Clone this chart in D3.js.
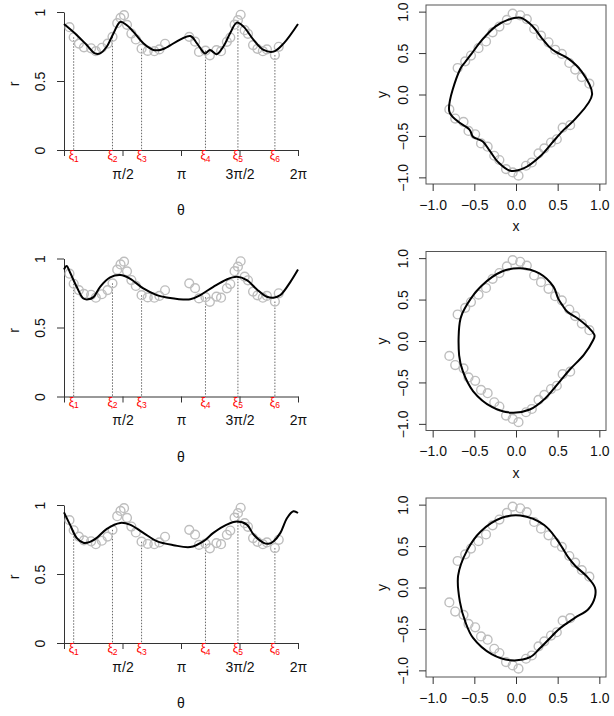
<!DOCTYPE html>
<html>
<head>
<meta charset="utf-8">
<script src="https://cdn.jsdelivr.net/npm/d3@7"></script>
<style>
  body { margin: 0; background: #fff; }
  text { font-family: "Liberation Sans", Arial, Helvetica, sans-serif; }
</style>
</head>
<body>
<svg id="chart" width="614" height="716"></svg>
<script>
// observed points, polar (theta, r)
const obsTheta = [0.147, 0.260, 0.400, 0.536, 0.728, 0.855, 1.016, 1.171, 1.302, 1.429, 1.518, 1.612,
  1.692, 1.809, 1.929, 2.083, 2.248, 2.426, 2.561, 2.713, 3.363, 3.520, 3.624, 3.799, 3.917, 4.094,
  4.217, 4.373, 4.465, 4.580, 4.670, 4.743, 4.851, 4.940, 5.076, 5.194, 5.339, 5.449, 5.663, 5.766];
const obsR = [0.890, 0.817, 0.771, 0.744, 0.737, 0.716, 0.741, 0.771, 0.820, 0.919, 0.957, 0.977,
  0.907, 0.844, 0.801, 0.734, 0.718, 0.716, 0.729, 0.770, 0.820, 0.785, 0.711, 0.720, 0.686, 0.724,
  0.716, 0.784, 0.815, 0.908, 0.941, 0.980, 0.868, 0.842, 0.760, 0.733, 0.716, 0.729, 0.688, 0.748];

// knots xi_1..xi_6
const xiTheta = [0.260, 1.302, 2.083, 3.799, 4.670, 5.663];
const xiR = [0.817, 0.820, 0.734, 0.720, 0.941, 0.688];
const xiSub = ["1", "2", "3", "4", "5", "6"];

// fitted curves r(theta), one per row
const fit1Theta = [0, 0.34, 0.61, 0.83, 0.97, 1.15, 1.33, 1.51, 1.68, 1.86, 2.13, 2.40, 2.58, 2.71,
  3.39, 3.57, 3.79, 3.92, 4.10, 4.28, 4.46, 4.64, 4.82, 5.09, 5.36, 5.63, 5.90, 6.283];
const fit1R = [0.913, 0.834, 0.761, 0.700, 0.700, 0.750, 0.846, 0.928, 0.906, 0.858, 0.773, 0.725, 0.725, 0.737,
  0.826, 0.773, 0.700, 0.725, 0.694, 0.750, 0.846, 0.923, 0.894, 0.798, 0.725, 0.713, 0.773, 0.913];

const fit2Theta = [0, 0.07, 0.16, 0.34, 0.52, 0.65, 0.79, 0.97, 1.24, 1.51, 1.77, 2.13, 2.49, 2.76,
  3.39, 3.66, 4.01, 4.37, 4.64, 4.91, 5.18, 5.45, 5.63, 5.81, 6.08, 6.283];
const fit2R = [0.920, 0.945, 0.900, 0.795, 0.710, 0.704, 0.720, 0.795, 0.863, 0.880, 0.855, 0.783, 0.735, 0.718,
  0.704, 0.735, 0.795, 0.848, 0.867, 0.843, 0.776, 0.723, 0.716, 0.735, 0.831, 0.920];

const fit3Theta = [0, 0.16, 0.34, 0.52, 0.70, 0.88, 1.15, 1.51, 1.77, 2.13, 2.49, 2.94, 3.39, 3.75,
  4.01, 4.37, 4.64, 4.91, 5.09, 5.36, 5.49, 5.63, 5.81, 5.99, 6.16, 6.283];
const fit3R = [0.947, 0.858, 0.762, 0.726, 0.733, 0.762, 0.827, 0.870, 0.858, 0.798, 0.738, 0.709, 0.695, 0.738,
  0.798, 0.858, 0.880, 0.858, 0.786, 0.726, 0.719, 0.738, 0.798, 0.906, 0.954, 0.942];

const thetaTicks = [0, Math.PI / 2, Math.PI, 3 * Math.PI / 2, 2 * Math.PI];
const thetaTickLabels = ["", "π/2", "π", "3π/2", "2π"];
const rTicks = [0, 0.5, 1];
const rTickLabels = ["0", "0.5", "1"];
const xyTicks = [-1, -0.5, 0, 0.5, 1];

const fits = [[fit1Theta, fit1R], [fit2Theta, fit2R], [fit3Theta, fit3R]];
const rowShift = [0, 246.5, 493];

const svg = d3.select("#chart");
const FONT = "Liberation Sans, Arial, Helvetica, sans-serif";
const FS = 14;
const AXIS_COL = "#333";
const PT_COL = "#bebebe";

const xTheta = d3.scaleLinear().domain([0, 2 * Math.PI]).range([64, 298]);
const yR = d3.scaleLinear().domain([0, 1]).range([150, 12]);
const xC = d3.scaleLinear().domain([-1.08, 1.08]).range([426, 606]);
const yC = d3.scaleLinear().domain([-1.08, 1.08]).range([184, 5]);

const obs = obsTheta.map((t, i) => ({ t: t, r: obsR[i] }));

function styleAxis(g) {
  g.attr("font-size", FS).attr("font-family", FONT);
  g.selectAll("line").attr("stroke", AXIS_COL);
  g.selectAll("path").attr("stroke", AXIS_COL);
  g.selectAll("text").attr("fill", "#111");
}

function drawPolar(g, fit) {
  // dotted drop lines at the knots
  g.append("g").selectAll("line")
    .data(xiTheta)
    .enter().append("line")
    .attr("x1", d => xTheta(d)).attr("x2", d => xTheta(d))
    .attr("y1", (d, i) => yR(xiR[i])).attr("y2", yR(0))
    .attr("stroke", "#444").attr("stroke-width", 0.8)
    .attr("stroke-dasharray", "1.5,1.5");

  // axes
  const ay = g.append("g")
    .attr("transform", `translate(${xTheta(0)},0)`)
    .call(d3.axisLeft(yR).tickValues(rTicks).tickFormat((d, i) => rTickLabels[i]).tickSize(7).tickSizeOuter(0));
  styleAxis(ay);
  ay.selectAll("text")
    .attr("transform", "rotate(-90)")
    .attr("x", 0).attr("y", -24).attr("dy", "0.35em")
    .attr("text-anchor", "middle");

  const ax = g.append("g")
    .attr("transform", `translate(0,${yR(0)})`)
    .call(d3.axisBottom(xTheta).tickValues(thetaTicks).tickFormat((d, i) => thetaTickLabels[i]).tickSize(6).tickSizeOuter(0));
  styleAxis(ax);
  ax.selectAll("text").attr("y", 19);

  // points
  g.append("g").selectAll("circle")
    .data(obs)
    .enter().append("circle")
    .attr("cx", d => xTheta(d.t)).attr("cy", d => yR(d.r))
    .attr("r", 4.4)
    .attr("fill", "none").attr("stroke", PT_COL).attr("stroke-width", 1.4);

  // fitted curve
  const line = d3.line()
    .x(d => xTheta(d[0])).y(d => yR(d[1]))
    .curve(d3.curveCatmullRom.alpha(0.5));
  g.append("path")
    .datum(fit[0].map((t, i) => [t, fit[1][i]]))
    .attr("d", line)
    .attr("fill", "none").attr("stroke", "#000").attr("stroke-width", 2);

  // xi labels
  const lab = g.append("g").selectAll("text")
    .data(xiTheta)
    .enter().append("text")
    .attr("x", d => xTheta(d)).attr("y", 159)
    .attr("text-anchor", "middle")
    .attr("fill", "#ff0000").attr("font-size", 12);
  lab.append("tspan").text("ξ");
  lab.append("tspan").attr("dy", 2.5).attr("font-size", 8.5).text((d, i) => xiSub[i]);

  g.append("text")
    .attr("x", xTheta(Math.PI)).attr("y", 215)
    .attr("text-anchor", "middle").attr("font-size", FS).attr("fill", "#111")
    .text("θ");
  g.append("text")
    .attr("transform", "translate(19,84) rotate(-90)")
    .attr("text-anchor", "middle").attr("font-size", FS).attr("fill", "#111")
    .text("r");
}

function drawCartesian(g, fit, showX) {
  g.append("rect")
    .attr("x", xC(-1.08)).attr("y", yC(1.08))
    .attr("width", xC(1.08) - xC(-1.08)).attr("height", yC(-1.08) - yC(1.08))
    .attr("fill", "none").attr("stroke", "#555").attr("stroke-width", 1);

  const fmt = d3.format(".1f");
  const ax = g.append("g")
    .attr("transform", `translate(0,${yC(-1.08)})`)
    .call(d3.axisBottom(xC).tickValues(xyTicks).tickFormat(fmt).tickSize(7).tickSizeOuter(0));
  styleAxis(ax);
  ax.select(".domain").remove();
  ax.selectAll("text").attr("y", 16);

  const ay = g.append("g")
    .attr("transform", `translate(${xC(-1.08)},0)`)
    .call(d3.axisLeft(yC).tickValues(xyTicks).tickFormat(fmt).tickSize(7).tickSizeOuter(0));
  styleAxis(ay);
  ay.select(".domain").remove();
  ay.selectAll("text")
    .attr("transform", "rotate(-90)")
    .attr("x", 0).attr("y", -23).attr("dy", "0.35em")
    .attr("text-anchor", "middle");

  g.append("g").selectAll("circle")
    .data(obs)
    .enter().append("circle")
    .attr("cx", d => xC(d.r * Math.cos(d.t))).attr("cy", d => yC(d.r * Math.sin(d.t)))
    .attr("r", 4.4)
    .attr("fill", "none").attr("stroke", PT_COL).attr("stroke-width", 1.4);

  const pts = fit[0].slice(0, -1).map((t, i) => [fit[1][i] * Math.cos(t), fit[1][i] * Math.sin(t)]);
  const line = d3.line()
    .x(d => xC(d[0])).y(d => yC(d[1]))
    .curve(d3.curveCatmullRomClosed.alpha(0.5));
  g.append("path")
    .datum(pts)
    .attr("d", line)
    .attr("fill", "none").attr("stroke", "#000").attr("stroke-width", 2);

  // the bottom row's x title falls below the page edge in the original
  if (showX) {
    g.append("text")
      .attr("x", xC(0)).attr("y", 231)
      .attr("text-anchor", "middle").attr("font-size", FS).attr("fill", "#111")
      .text("x");
  }
  g.append("text")
    .attr("transform", `translate(387,${yC(0)}) rotate(-90)`)
    .attr("text-anchor", "middle").attr("font-size", FS).attr("fill", "#111")
    .text("y");
}

fits.forEach((fit, i) => {
  const g = svg.append("g").attr("transform", `translate(0,${rowShift[i]})`);
  drawPolar(g, fit);
  drawCartesian(g, fit, i < fits.length - 1);
});
</script>
</body>
</html>
